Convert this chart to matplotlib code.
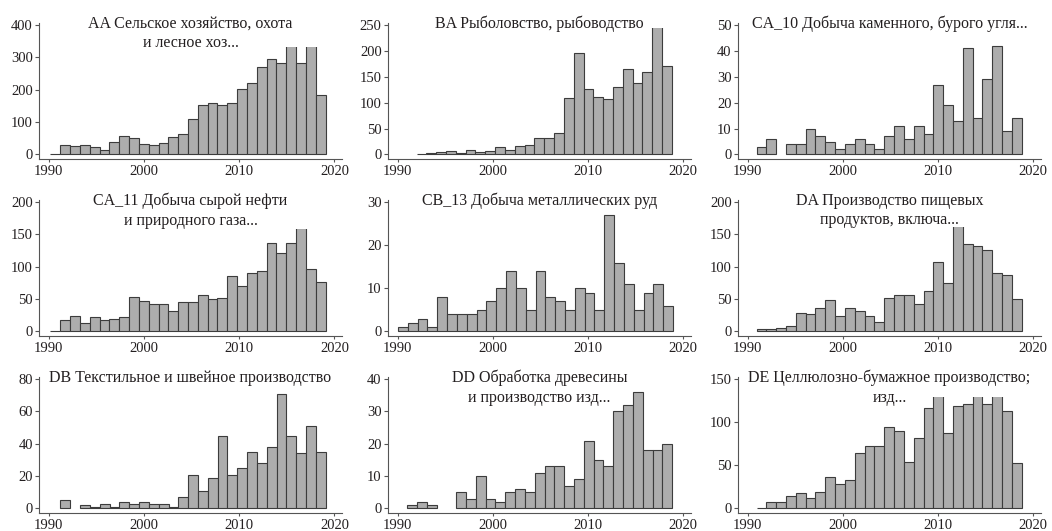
import matplotlib

matplotlib.use("Agg")
import matplotlib.pyplot as plt
import matplotlib.transforms as mtransforms
from matplotlib.patches import Rectangle
import numpy as np

plt.rcParams["font.family"] = ["Liberation Serif", "DejaVu Serif"]

# Число регистраций по году (гистограммы, шаг бина ~1 год)
titles = [
    "AA Сельское хозяйство, охота\nи лесное хоз...",
    "BA Рыболовство, рыбоводство",
    "CA_10 Добыча каменного, бурого угля...",
    "CA_11 Добыча сырой нефти\nи природного газа...",
    "CB_13 Добыча металлических руд",
    "DA Производство пищевых\nпродуктов, включа...",
    "DB Текстильное и швейное производство",
    "DD Обработка древесины\nи производство изд...",
    "DE Целлюлозно-бумажное производство;\nизд...",
]

bin_start = [1990.2, 1992.0, 1990.95, 1990.2, 1990.05, 1990.95, 1991.25, 1991.0, 1990.95]
bin_width = 1.031

counts_aa = [2, 28, 25, 30, 23, 14, 40, 58, 51, 33, 30, 36, 53, 64, 111, 152, 159, 154, 159, 202,
             222, 269, 294, 282, 345, 284, 350, 184]
counts_ba = [1, 3, 5, 6, 2, 9, 4, 6, 14, 9, 16, 18, 31, 32, 41, 109, 197, 126, 112, 107, 130, 166,
             139, 160, 265, 170]
counts_ca10 = [3, 6, 0, 4, 4, 10, 7, 5, 2, 4, 6, 4, 2, 7, 11, 6, 11, 8, 27, 19, 13, 41, 14, 29, 42,
               9, 14]
counts_ca11 = [1, 17, 24, 13, 22, 18, 20, 22, 54, 47, 43, 42, 31, 46, 45, 56, 51, 52, 86, 71, 91, 94,
               137, 121, 137, 175, 97, 77]
counts_cb13 = [1, 2, 3, 1, 8, 4, 4, 4, 5, 7, 10, 14, 10, 5, 14, 8, 7, 5, 10, 9, 5, 27, 16, 11, 5, 9,
               11, 6]
counts_da = [4, 4, 5, 8, 28, 27, 37, 48, 24, 37, 32, 24, 15, 52, 57, 56, 42, 63, 107, 75, 175, 135,
             132, 126, 91, 87, 51]
counts_db = [5, 0, 2, 1, 3, 1, 4, 3, 4, 3, 3, 1, 7, 21, 11, 19, 45, 21, 25, 35, 28, 38, 71, 45, 34,
             51, 35]
counts_dd = [1, 2, 1, 0, 0, 5, 3, 10, 3, 2, 5, 6, 5, 11, 13, 13, 7, 9, 21, 15, 13, 30, 32, 36, 18,
             18, 20]
counts_de = [1, 8, 8, 14, 18, 12, 19, 37, 28, 33, 64, 72, 72, 94, 90, 54, 82, 117, 135, 87, 119, 121,
             135, 121, 133, 113, 53]

counts = [counts_aa, counts_ba, counts_ca10, counts_ca11, counts_cb13, counts_da, counts_db,
          counts_dd, counts_de]

y_top = [400, 250, 50, 200, 30, 200, 80, 40, 150]
y_step = [100, 50, 10, 50, 10, 50, 20, 10, 50]
# нижняя граница белой подложки под заголовком (в единицах оси y)
title_band = [331, 245, None, 159, None, 161, None, None, 129.5]

x_ticks = [1990, 2000, 2010, 2020]

text_color = "#231f20"
axis_color = "#555555"
bar_face = "#adadad"
bar_edge = "#3c3c3c"

fig = plt.figure(figsize=(10.52, 5.31), dpi=100)
fig.patch.set_facecolor("white")

lefts = [0.0371, 0.3688, 0.7015]
bottoms = [0.7006, 0.3672, 0.0339]
w, h = 0.288, 0.257

for i in range(9):
    r, c = divmod(i, 3)
    ax = fig.add_axes([lefts[c], bottoms[r], w, h])
    vals = np.asarray(counts[i], dtype=float)
    edges = bin_start[i] + bin_width * np.arange(len(vals))
    keep = vals > 0
    ax.bar(edges[keep], vals[keep], width=bin_width, align="edge",
           color=bar_face, edgecolor=bar_edge, linewidth=0.8, zorder=1)

    top = y_top[i]
    ax.set_ylim(-0.035 * top, 1.02 * top)
    ax.set_xlim(1989.0, 2020.8)
    ax.set_yticks(np.arange(0, top + 1, y_step[i]))
    ax.set_xticks(x_ticks)

    if title_band[i] is not None:
        trans = mtransforms.blended_transform_factory(ax.transAxes, ax.transData)
        ax.add_patch(Rectangle((0.004, title_band[i]), 1.0, 1.1 * top - title_band[i],
                               transform=trans, facecolor="white", edgecolor="none",
                               zorder=2, clip_on=True))

    ax.text(0.5, 1.05, titles[i], transform=ax.transAxes, ha="center", va="top",
            fontsize=11.5, color=text_color, linespacing=1.3, zorder=3)

    for side in ["top", "right"]:
        ax.spines[side].set_visible(False)
    for side in ["left", "bottom"]:
        ax.spines[side].set_color(axis_color)
        ax.spines[side].set_linewidth(0.8)
    ax.tick_params(colors=axis_color, labelcolor=text_color, labelsize=10.5,
                   length=3, width=0.8, pad=1.5)
    ax.tick_params(axis="x", length=2.5, pad=1.5)
    ax.set_facecolor("none")

plt.savefig("out.png", facecolor="white", dpi=100)
